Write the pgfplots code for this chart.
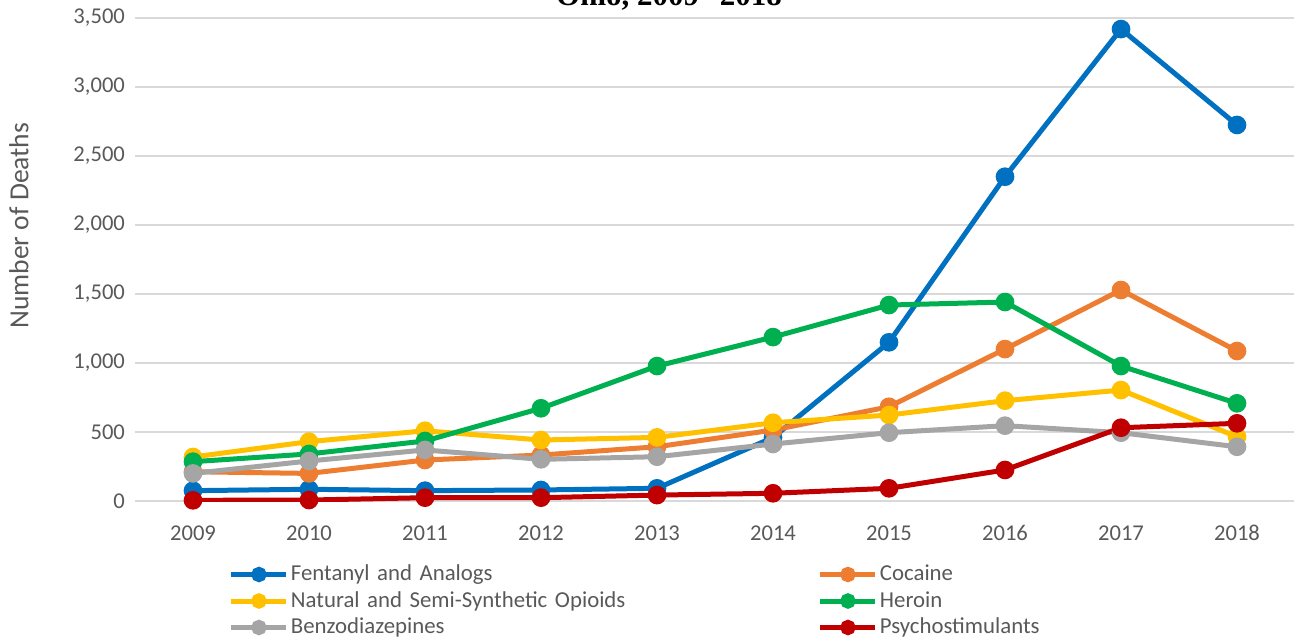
\documentclass[border=0pt]{standalone}
\usepackage{pgfplots}
\pgfplotsset{compat=1.18}
\usepackage{fontspec}
\setmainfont{Carlito}
\newfontfamily\titlefont{Liberation Serif}
\definecolor{cBlue}{HTML}{0070C0}
\definecolor{cOrange}{HTML}{ED7D31}
\definecolor{cYellow}{HTML}{FFC000}
\definecolor{cGreen}{HTML}{00B050}
\definecolor{cGray}{HTML}{A5A5A5}
\definecolor{cRed}{HTML}{C00000}
\definecolor{gridgray}{HTML}{D9D9D9}
\definecolor{textgray}{HTML}{595959}
\begin{document}
\begin{tikzpicture}
\begin{axis}[
  at={(0,0)}, anchor=south west,
  scale only axis, width=580pt, height=241.5pt,
  xmin=2008.5, xmax=2018.5, ymin=0, ymax=3500,
  xtick={2009,2010,2011,2012,2013,2014,2015,2016,2017,2018},
  xticklabels={2009,2010,2011,2012,2013,2014,2015,2016,2017,2018},
  ytick={0,500,1000,1500,2000,2500,3000,3500},
  /pgf/number format/1000 sep={,},
  /pgf/number format/assume math mode=true,
  ymajorgrids, grid style={color=gridgray, line width=0.75pt},
  axis line style={draw=none},
  major tick length=0pt,
  tick label style={color=textgray, font=\fontsize{11.3}{13}\selectfont},
  xticklabel style={yshift=-8pt, anchor=north, text height=8pt, text depth=0pt},
  yticklabel style={xshift=-1.5pt},
  ylabel={Number of Deaths},
  ylabel style={at={(axis description cs:-0.1,0.570)}, anchor=center, color=textgray, font=\fontsize{13.8}{16}\selectfont},
  legend columns=2,
  legend style={at={(axis description cs:0.081,-0.1273)}, anchor=north west, draw=none, fill=none,
    inner sep=0pt, outer sep=0pt, row sep=1.25pt,
    font=\fontsize{11.4}{13}\selectfont, text=textgray,
    nodes={text width=262.5pt, align=left, text height=8pt, text depth=2pt, inner sep=1pt}},
  legend image code/.code={\draw[mark repeat=2,mark phase=2, mark size=2.6pt] plot coordinates {(0pt,0pt)(13.75pt,0pt)(27.5pt,0pt)};},
  every axis plot/.append style={line width=2.5pt, mark=*, mark size=3.4pt, mark options={solid}},
]
\addplot[color=cBlue] coordinates {(2009,75)(2010,85)(2011,75)(2012,80)(2013,92)(2014,460)(2015,1150)(2016,2350)(2017,3420)(2018,2725)};
\addlegendentry{Fentanyl and Analogs}
\addplot[color=cOrange] coordinates {(2009,212)(2010,200)(2011,297)(2012,333)(2013,393)(2014,514)(2015,683)(2016,1101)(2017,1529)(2018,1087)};
\addlegendentry{Cocaine}
\addplot[color=cYellow] coordinates {(2009,319)(2010,430)(2011,509)(2012,442)(2013,461)(2014,567)(2015,623)(2016,727)(2017,804)(2018,466)};
\addlegendentry{Natural and Semi-Synthetic Opioids}
\addplot[color=cGreen] coordinates {(2009,285)(2010,341)(2011,435)(2012,672)(2013,978)(2014,1188)(2015,1420)(2016,1442)(2017,978)(2018,708)};
\addlegendentry{Heroin}
\addplot[color=cGray] coordinates {(2009,200)(2010,290)(2011,370)(2012,302)(2013,321)(2014,413)(2015,495)(2016,546)(2017,495)(2018,393)};
\addlegendentry{Benzodiazepines}
\addplot[color=cRed] coordinates {(2009,5)(2010,7)(2011,24)(2012,24)(2013,43)(2014,56)(2015,92)(2016,225)(2017,531)(2018,563)};
\addlegendentry{Psychostimulants}
\end{axis}
\node[font=\titlefont\bfseries\fontsize{15.5}{18}\selectfont, anchor=base] at (267pt,248pt) {Ohio, 2009--2018};
\pgfresetboundingbox
\useasboundingbox (-67.5pt,-69pt) rectangle (579.5pt,250.5pt);
\end{tikzpicture}
\end{document}
